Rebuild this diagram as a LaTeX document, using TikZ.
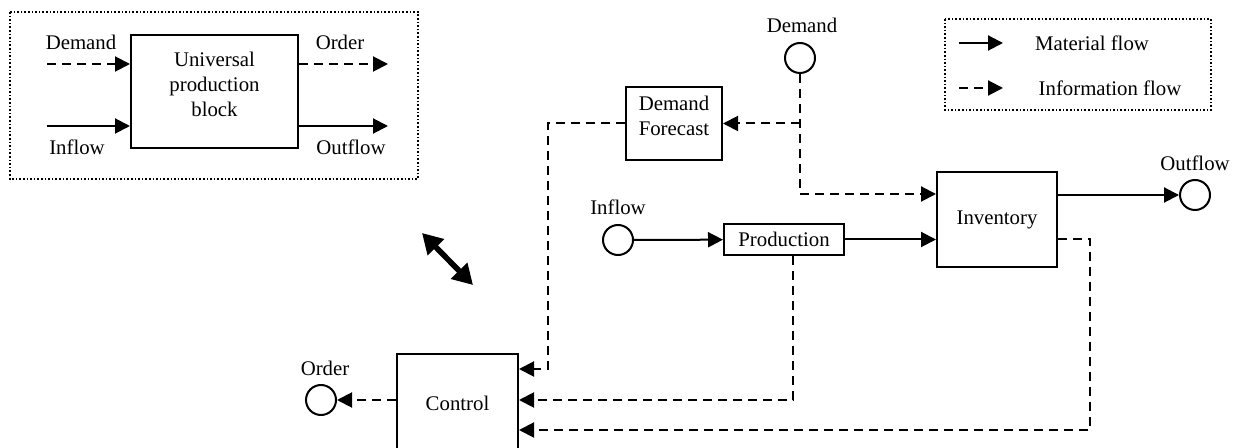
\documentclass[tikz,border=0pt]{standalone}
\usepackage{fontspec}
\setmainfont{Liberation Serif}
\usetikzlibrary{arrows.meta,positioning,calc}

\begin{document}
\begin{tikzpicture}[
    x=0.5pt, y=-0.5pt,
    font=\fontsize{10.4}{12.5}\selectfont,
    block/.style={rectangle, draw, line width=1pt, inner sep=0pt, align=center},
    port/.style={circle, draw, line width=1pt, minimum size=15pt, inner sep=0pt},
    mflow/.style={line width=1pt, -{Triangle[length=7.5pt, width=7.5pt]}},
    iflow/.style={mflow, dash pattern=on 4.5pt off 3pt},
    frame/.style={draw, densely dotted, line width=0.8pt}
]
    \useasboundingbox (0,0) rectangle (1241,448);

    % Universal production block
    \draw[frame] (10,12) rectangle (418,179);
    \node[block, minimum width=83.5pt, minimum height=56.5pt,
          label={[align=center, yshift=3.75pt]center:Universal\\production\\block}] (upb) at (214.5,91.5) {};
    \coordinate (dmdin) at (47,64);
    \coordinate (ordout) at (388,64);
    \coordinate (flowin) at (47,126);
    \coordinate (flowout) at (388,126);
    \draw[iflow] (dmdin) -- (dmdin -| upb.west);
    \draw[iflow] (upb.east |- ordout) -- (ordout);
    \draw[mflow] (flowin) -- (flowin -| upb.west);
    \draw[mflow] (upb.east |- flowout) -- (flowout);
    \node (dmdtxt) at (81,42) {Demand};
    \node (ordtxt) at (340,42) {Order};
    \node (intxt) at (77,147) {Inflow};
    \node (outtxt) at (351,147) {Outflow};

    % Legend
    \draw[frame] (945,19) rectangle (1211,110);
    \coordinate (lgm1) at (959,43);
    \coordinate (lgm2) at (1003,43);
    \coordinate (lgi1) at (959,88);
    \coordinate (lgi2) at (1003,88);
    \draw[mflow] (lgm1) -- (lgm2);
    \draw[iflow] (lgi1) -- (lgi2);
    \node (lgmtxt) at (1092,43) {Material flow};
    \node (lgitxt) at (1110,88) {Information flow};

    % Equivalence
    \coordinate (dblA) at (422,233);
    \coordinate (dblB) at (473,285);
    \draw[line width=2.8pt, {Triangle[length=10pt, width=11pt]}-{Triangle[length=10pt, width=11pt]}] (dblA) -- (dblB);

    % Detailed model
    \node[port] (demand) at (800,58) {};
    \node (demandtxt) at (802,25) {Demand};
    \node[port] (inflow) at (618,240) {};
    \node (inflowtxt) at (618,207) {Inflow};
    \node[port] (outflow) at (1195,195) {};
    \node (outflowtxt) at (1195,163) {Outflow};
    \node[port] (order) at (321,400) {};
    \node (ordertxt) at (325,368) {Order};

    \node[block, minimum width=48pt, minimum height=36.5pt,
          label={[align=center, yshift=4pt]center:Demand\\Forecast}] (fcst) at (674,123.5) {};
    \node[block, minimum width=60pt, minimum height=15.5pt] (prod) at (784,239.5) {Production};
    \node[block, minimum width=60pt, minimum height=47.5pt] (inv) at (997,219.5) {Inventory};
    \node[block, minimum width=60.5pt, minimum height=49pt] (ctrl) at (457.5,403) {Control};

    % Material flow
    \draw[mflow] (inflow) -- (prod);
    \draw[mflow] (prod.east) -- (prod.east -| inv.west);
    \draw[mflow] (inv.east |- outflow) -- (outflow);

    % Information flow
    \draw[iflow] (demand) |- ([yshift=12.75pt]inv.west);
    \draw[iflow] (demand.south |- fcst.east) -- (fcst.east);
    \draw[iflow] (fcst.west) -- ++(-77,0) |- ([yshift=17pt]ctrl.east);
    \draw[iflow] ([xshift=4.5pt]prod.south) |- ([yshift=1.5pt]ctrl.east);
    \draw[iflow] ([yshift=-9.75pt]inv.east) -- ++(32,0) |- ([yshift=-13.5pt]ctrl.east);
    \draw[iflow] ([yshift=1.5pt]ctrl.west) -- (order);
\end{tikzpicture}
\end{document}
